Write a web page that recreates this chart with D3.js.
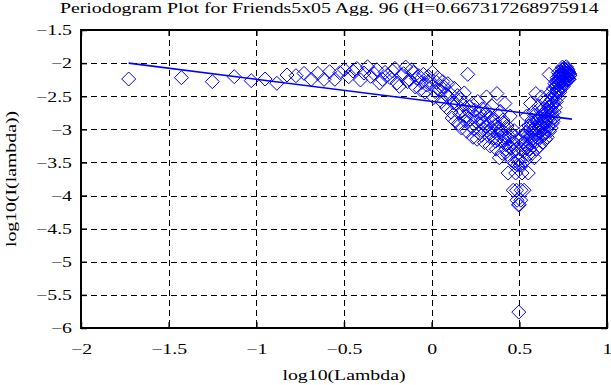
<!DOCTYPE html>
<html>
<head>
<meta charset="utf-8">
<script src="https://cdn.jsdelivr.net/npm/d3@7"></script>
<style>
body { margin: 0; background: #fff; }
text { font-family: "Liberation Serif", "Times New Roman", serif; fill: #000; }
</style>
</head>
<body>
<div id="chart"></div>
<script>
// periodogram points, log10(lambda) and log10(I(lambda))
var logLambda = [
  -1.728, -1.427, -1.251, -1.126, -1.029, -0.950, -0.883, -0.825, -0.774, -0.728,
  -0.687, -0.649, -0.614, -0.582, -0.552, -0.524, -0.498, -0.473, -0.449, -0.427,
  -0.406, -0.386, -0.366, -0.348, -0.330, -0.313, -0.297, -0.281, -0.266, -0.251,
  -0.223, -0.197, -0.172, -0.148, -0.126, -0.105, -0.085, -0.065, -0.047, -0.029,
  -0.012, 0.004, 0.020, 0.035, 0.050, 0.064, 0.078, 0.092, 0.105, 0.117,
  0.129, 0.141, 0.153, 0.164, 0.175, 0.186, 0.196, 0.206, 0.216, 0.226,
  0.236, 0.245, 0.254, 0.263, 0.272, 0.281, 0.289, 0.297, 0.305, 0.313,
  0.321, 0.329, 0.336, 0.344, 0.351, 0.358, 0.365, 0.372, 0.379, 0.386,
  0.393, 0.399, 0.406, 0.412, 0.418, 0.424, 0.430, 0.436, 0.442, 0.448,
  0.454, 0.460, 0.465, 0.471, 0.476, 0.479, 0.482, 0.484, 0.487, 0.490,
  0.492, 0.495, 0.497,
  0.500, 0.502, 0.505, 0.508, 0.510, 0.513, 0.515, 0.518, 0.522, 0.527,
  0.532, 0.537, 0.542, 0.546, 0.551, 0.555, 0.560, 0.564, 0.569, 0.573,
  0.577, 0.582, 0.586, 0.590, 0.594, 0.598, 0.602, 0.607, 0.611, 0.614,
  0.618, 0.622, 0.626, 0.630, 0.634, 0.638, 0.641, 0.645, 0.649, 0.652,
  0.656, 0.659, 0.663, 0.667, 0.670, 0.673, 0.677, 0.680, 0.684, 0.687,
  0.690, 0.694, 0.697, 0.700, 0.703, 0.707, 0.710, 0.713, 0.716, 0.719,
  0.722, 0.725, 0.728, 0.731, 0.734, 0.737, 0.740, 0.743, 0.746, 0.749,
  0.752, 0.755, 0.758, 0.761, 0.763, 0.766, 0.769, 0.772, 0.774, 0.777,
  0.780, 0.783, 0.785, 0.788,
  -0.237, -0.210, -0.184, -0.160, -0.137, -0.115, -0.094, -0.075, -0.056, -0.038,
  -0.020, -0.004, 0.012, 0.028, 0.043, 0.057, 0.071, 0.085, 0.098, 0.111,
  0.123, 0.135, 0.147, 0.159, 0.170, 0.181, 0.191, 0.201, 0.212, 0.221,
  0.231, 0.241, 0.250, 0.259, 0.268, 0.276, 0.285, 0.293, 0.301, 0.309,
  0.317, 0.325, 0.333, 0.340, 0.348, 0.355, 0.362, 0.369, 0.376, 0.383,
  0.389, 0.396, 0.402, 0.409, 0.415, 0.421, 0.427, 0.433, 0.439, 0.445,
  0.451, 0.457, 0.462, 0.468, 0.473,
  0.520, 0.525, 0.530, 0.535, 0.539, 0.544, 0.549, 0.553, 0.558, 0.562,
  0.567, 0.571, 0.575, 0.580, 0.584, 0.588, 0.592, 0.596, 0.600, 0.604,
  0.609, 0.612, 0.616, 0.620, 0.624, 0.628, 0.632, 0.636, 0.639, 0.643,
  0.647, 0.650, 0.654, 0.658, 0.661, 0.665, 0.668, 0.672, 0.675, 0.679,
  0.682, 0.685, 0.689, 0.692, 0.695, 0.699, 0.702, 0.705, 0.708, 0.711,
  0.715, 0.718, 0.721, 0.724, 0.727, 0.730, 0.733, 0.736, 0.739, 0.742,
  0.745, 0.748, 0.751, 0.753, 0.756,
  0.759, 0.762, 0.765, 0.768, 0.770, 0.773, 0.776, 0.779, 0.781, 0.784, 0.787
];
var logI = [
  -2.24, -2.22, -2.28, -2.205, -2.265, -2.24, -2.305, -2.18, -2.19, -2.155,
  -2.245, -2.155, -2.245, -2.13, -2.245, -2.145, -2.10, -2.205, -2.12, -2.08,
  -2.255, -2.15, -2.055, -2.20, -2.155, -2.10, -2.30, -2.245, -2.14, -2.18,
  -2.12, -2.30, -2.18, -2.06, -2.25, -2.14, -2.23, -2.40, -2.17, -2.33,
  -2.26, -2.14, -2.43, -2.22, -2.35, -2.28, -2.47, -2.31, -2.46, -2.83,
  -2.38, -2.62, -2.91, -2.55, -2.72, -2.45, -2.80, -2.17, -2.66, -2.95,
  -3.12, -2.71, -2.88, -2.58, -3.06, -2.84, -2.69, -3.00, -2.78, -2.51,
  -2.93, -3.11, -2.82, -2.65, -3.02, -2.88, -3.18, -2.46, -2.97, -3.43,
  -2.73, -3.05, -2.86, -3.16, -2.61, -3.30, -2.95, -3.66, -3.10, -2.80,
  -3.28, -3.22, -3.92, -3.02, -3.51, -3.66, -3.30, -3.92, -4.07, -3.54,
  -3.46, -4.14, -5.76,
  -4.14, -3.46, -3.54, -4.07, -3.92, -3.30, -3.66, -3.51, -3.02, -3.92,
  -3.22, -3.28, -2.80, -3.10, -3.66, -2.95, -3.30, -2.61, -3.16, -2.86,
  -3.05, -2.73, -3.43, -2.97, -2.46, -3.18, -2.88, -3.02, -2.65, -2.82,
  -3.11, -2.93, -2.51, -2.78, -3.00, -2.69, -2.84, -3.06, -2.58, -2.88,
  -2.71, -3.12, -2.95, -2.66, -2.17, -2.80, -2.45, -2.72, -2.55, -2.91,
  -2.62, -2.38, -2.83, -2.46, -2.31, -2.47, -2.28, -2.35, -2.22, -2.43,
  -2.14, -2.26, -2.33, -2.17, -2.40, -2.23, -2.14, -2.25, -2.06, -2.18,
  -2.30, -2.12, -2.18, -2.245, -2.10, -2.20, -2.15, -2.08, -2.205, -2.145,
  -2.13, -2.155, -2.155, -2.18,
  -2.22, -2.08, -2.35, -2.16, -2.28, -2.10, -2.36, -2.19, -2.29, -2.44,
  -2.20, -2.31, -2.52, -2.29, -2.41, -2.58, -2.36, -2.67, -2.52, -2.74,
  -2.60, -2.88, -2.49, -2.76, -2.98, -2.64, -2.87, -3.03, -2.73, -2.85,
  -2.62, -3.00, -2.81, -3.15, -2.92, -2.75, -3.09, -2.90, -3.20, -2.96,
  -2.72, -3.04, -3.25, -2.98, -2.86, -3.13, -2.94, -3.30, -3.07, -2.79,
  -3.17, -3.00, -3.36, -2.90, -3.12, -3.23, -2.99, -3.38, -3.14, -3.27,
  -3.05, -3.47, -3.19, -3.33, -3.12,
  -3.12, -3.33, -3.19, -3.47, -3.05, -3.27, -3.14, -3.38, -2.99, -3.23,
  -3.12, -2.90, -3.36, -3.00, -3.17, -2.79, -3.07, -3.30, -2.94, -3.13,
  -2.86, -2.98, -3.25, -3.04, -2.72, -2.96, -3.20, -2.90, -3.09, -2.75,
  -2.92, -3.15, -2.81, -3.00, -2.62, -2.85, -2.73, -3.03, -2.87, -2.64,
  -2.98, -2.76, -2.49, -2.88, -2.60, -2.74, -2.52, -2.67, -2.36, -2.58,
  -2.41, -2.29, -2.52, -2.31, -2.20, -2.44, -2.29, -2.19, -2.36, -2.10,
  -2.28, -2.16, -2.35, -2.08, -2.22,
  -2.14, -2.30, -2.155, -2.055, -2.255, -2.12, -2.10, -2.245, -2.245, -2.245, -2.19
];

// least squares fit line end points
var fitLambda = [-1.728, 0.80];
var fitI = [-2.0, -2.846];

var xTicks = [-2, -1.5, -1, -0.5, 0, 0.5, 1];
var yTicks = [-6, -5.5, -5, -4.5, -4, -3.5, -3, -2.5, -2, -1.5];
var titleText = "Periodogram Plot for Friends5x05 Agg. 96 (H=0.667317268975914";

var width = 611, height = 385;
var margin = { top: 30, right: 4, bottom: 57, left: 81 };
var w = width - margin.left - margin.right;
var h = height - margin.top - margin.bottom;
var fs = 15, stretch = 1.32; // the old bitmap font is wide

var svg = d3.select("#chart")
  .append("svg")
  .attr("width", width)
  .attr("height", height);

var g = svg.append("g")
  .attr("transform", "translate(" + margin.left + "," + margin.top + ")");

var x = d3.scaleLinear().domain([-2, 1]).range([0, w]);
var y = d3.scaleLinear().domain([-6, -1.5]).range([h, 0]);

function fmt(d) {
  return d < 0 ? "\u2212" + Math.abs(d) : String(d);
}

// dashed grid
g.append("g").selectAll("line")
  .data(xTicks.slice(1, -1))
  .enter().append("line")
  .attr("x1", function(d) { return Math.round(x(d)) + 0.5; })
  .attr("x2", function(d) { return Math.round(x(d)) + 0.5; })
  .attr("y1", 0).attr("y2", h)
  .attr("stroke", "#000").attr("stroke-dasharray", "6,4");

g.append("g").selectAll("line")
  .data(yTicks.slice(1, -1))
  .enter().append("line")
  .attr("y1", function(d) { return Math.round(y(d)) + 0.5; })
  .attr("y2", function(d) { return Math.round(y(d)) + 0.5; })
  .attr("x1", 0).attr("x2", w)
  .attr("stroke", "#000").attr("stroke-dasharray", "6,4");

// ticks on all four sides, pointing in
var xb = g.append("g").attr("transform", "translate(0," + h + ")")
  .call(d3.axisBottom(x).tickValues(xTicks).tickSize(-6).tickPadding(15).tickFormat(fmt));
var xt = g.append("g")
  .call(d3.axisTop(x).tickValues(xTicks).tickSize(-6).tickFormat(""));
var yl = g.append("g")
  .call(d3.axisLeft(y).tickValues(yTicks).tickSize(-6).tickFormat(fmt));
var yr = g.append("g").attr("transform", "translate(" + w + ",0)")
  .call(d3.axisRight(y).tickValues(yTicks).tickSize(-6).tickFormat(""));

[xb, xt, yl, yr].forEach(function(a) {
  a.select(".domain").remove();
  a.selectAll("line").attr("stroke", "#000").attr("stroke-width", 1.5);
  a.selectAll("text")
    .attr("font-family", null).attr("font-size", fs)
    .style("font-family", '"Liberation Serif", serif').style("font-size", fs + "px");
});
xb.selectAll("text").attr("transform", "scale(" + stretch + ",1)");
yl.selectAll("text")
  .attr("x", -9 / stretch)
  .attr("transform", "scale(" + stretch + ",1)");

// diamonds
var pts = logLambda.map(function(v, i) { return { lx: v, ly: logI[i] }; });
g.append("g").selectAll("path")
  .data(pts)
  .enter().append("path")
  .attr("d", "M0,-7L7,0L0,7L-7,0Z")
  .attr("transform", function(d) { return "translate(" + x(d.lx) + "," + y(d.ly) + ")"; })
  .attr("fill", "none")
  .attr("stroke", "#0000ff")
  .attr("stroke-width", 1);

// fit line
var line = d3.line()
  .x(function(d) { return x(d[0]); })
  .y(function(d) { return y(d[1]); });
g.append("path")
  .datum(fitLambda.map(function(v, i) { return [v, fitI[i]]; }))
  .attr("d", line)
  .attr("fill", "none")
  .attr("stroke", "#0000ff")
  .attr("stroke-width", 1.6);

// box
g.append("rect")
  .attr("x", 0).attr("y", 0).attr("width", w).attr("height", h)
  .attr("fill", "none").attr("stroke", "#000").attr("stroke-width", 2);

// titles
svg.append("text")
  .attr("transform", "translate(60,13) scale(" + stretch + ",1)")
  .attr("font-size", fs)
  .text(titleText);

svg.append("text")
  .attr("transform", "translate(" + (margin.left + w / 2) + ",380) scale(" + stretch + ",1)")
  .attr("text-anchor", "middle")
  .attr("font-size", fs)
  .text("log10(Lambda)");

svg.append("text")
  .attr("transform", "translate(16," + (margin.top + h / 2) + ") rotate(-90) scale(" + stretch + ",1)")
  .attr("text-anchor", "middle")
  .attr("font-size", fs)
  .text("log10(I(lambda))");
</script>
</body>
</html>
